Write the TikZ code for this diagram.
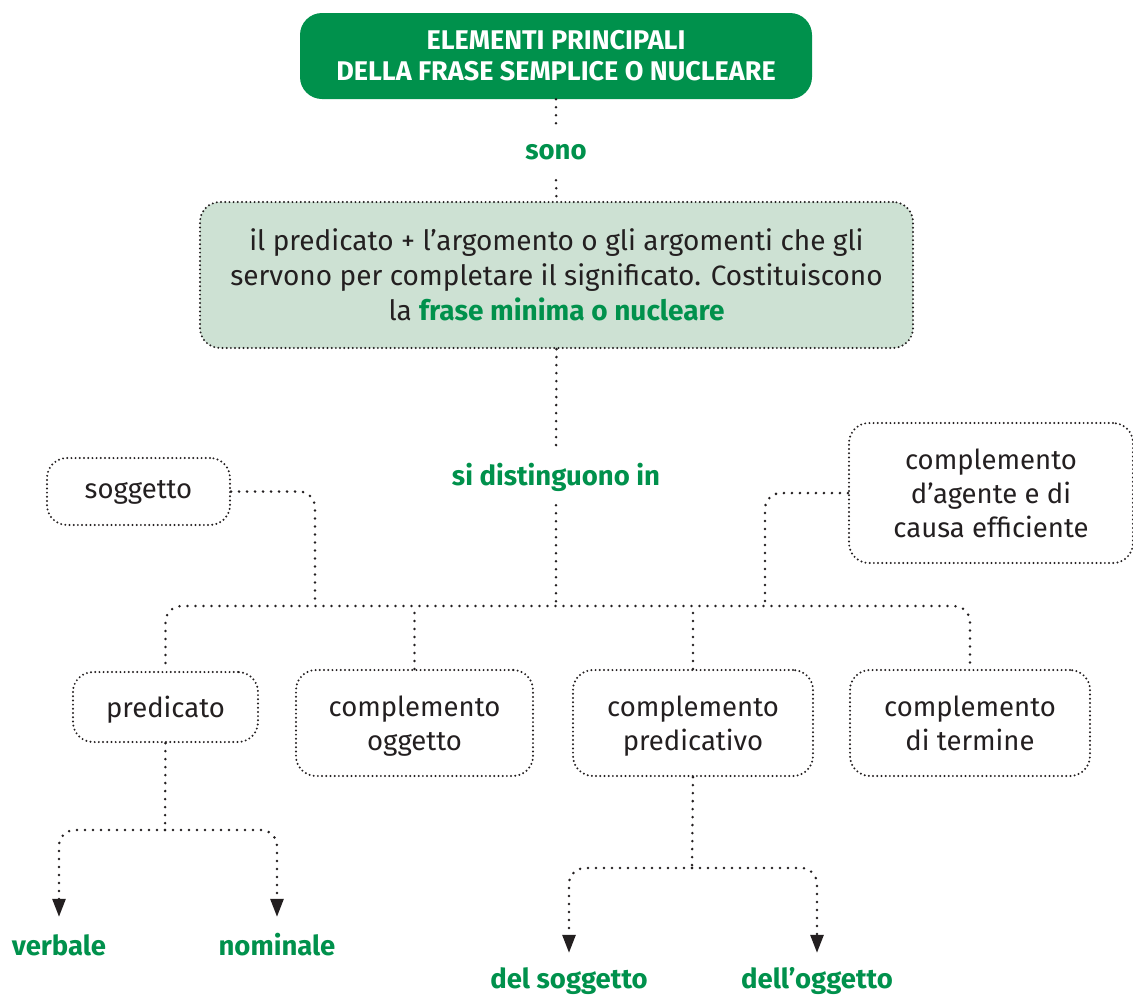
\documentclass[tikz,border=0pt]{standalone}
\usepackage{fontspec}
\setmainfont{Fira Sans}
\usetikzlibrary{arrows.meta}
\definecolor{leafgreen}{RGB}{0,145,76}
\definecolor{mintbg}{RGB}{205,225,211}
\definecolor{inkgray}{RGB}{35,31,32}
\newcommand{\upgap}{\rule{0pt}{31pt}}

\tikzset{
  box/.style={draw=inkgray, line width=2.2pt, dash pattern=on 0pt off 4.2pt,
              line cap=round, rounded corners=20pt, align=center, inner sep=0pt,
              text=inkgray, font=\fontsize{27.5}{34}\selectfont},
  link/.style={draw=inkgray, line width=2.8pt, dash pattern=on 0pt off 8pt,
               line cap=round},
  tag/.style={text=leafgreen, font=\fontsize{27.5}{30}\selectfont\bfseries,
              minimum height=56pt, inner sep=0pt},
  tip/.style={-{Triangle[width=13pt,length=18pt]}}
}

\begin{document}
\begin{tikzpicture}[x=1pt, y=-1pt]
  \useasboundingbox (0,0) rectangle (1133,997);

  % top of the map
  \node[fill=leafgreen, rounded corners=22pt, minimum width=512pt, minimum height=86pt,
        inner sep=0pt, align=center, text=white,
        font=\fontsize{27}{31}\selectfont\bfseries] (title) at (556,56)
    {ELEMENTI PRINCIPALI\\DELLA FRASE SEMPLICE O NUCLEARE};
  \node[tag] (sono) at (556,152) {sono};
  \node[box, fill=mintbg, minimum width=713pt, minimum height=146pt,
        font=\fontsize{28}{35}\selectfont] (main) at (556.5,275)
    {\upgap il predicato + l’argomento o gli argomenti che gli\\
     servono per completare il significato. Costituiscono\\
     la \textcolor{leafgreen}{\bfseries frase minima o nucleare}\strut};
  \node[tag] (sidist) at (556,477) {si distinguono in};

  % side boxes
  \node[box, minimum width=183pt, minimum height=67pt] (sogg) at (138.5,491.5) {soggetto\strut};
  \node[box, minimum width=284pt, minimum height=140pt] (agente) at (991,493)
    {\upgap complemento\\d’agente e di\\causa efficiente\strut};

  % row of elements
  \node[box, minimum width=185pt, minimum height=70pt] (pred) at (165.5,707) {\upgap predicato\strut};
  \node[box, minimum width=237pt, minimum height=106pt] (ogg) at (414.5,723)
    {\upgap complemento\\oggetto\strut};
  \node[box, minimum width=240pt, minimum height=106pt] (predv) at (693,723)
    {\upgap complemento\\predicativo\strut};
  \node[box, minimum width=240pt, minimum height=106pt] (term) at (970,723)
    {\upgap complemento\\di termine\strut};

  % leaves
  \node[tag] (verb) at (59,945) {verbale};
  \node[tag] (nom) at (277,945) {nominale};
  \node[tag] (dsogg) at (569,981) {del soggetto};
  \node[tag] (dogg) at (817,981) {dell’oggetto};

  \coordinate (jM) at (556,606);
  \coordinate (jS) at (315,606);
  \coordinate (jA) at (765,606);
  \coordinate (jP) at (165,830);
  \coordinate (jV) at (692,868);

  \draw[link] (title.south) -- (sono.north);
  \draw[link] (sono.south) -- (main.north);
  \draw[link] (main.south) -- (sidist.north);
  \draw[link] (sidist.south) -- (jM);
  \draw[link, rounded corners=16pt] (sogg.east) -| (jS);
  \draw[link, rounded corners=16pt] (agente.west) -| (jA);
  \draw[link, rounded corners=16pt, shorten <=8pt, shorten >=6pt] (pred.north) |- (jM) -| (term.north);
  \draw[link] (ogg.north) -- (ogg.north |- jM);
  \draw[link] (predv.north) -- (predv.north |- jM);

  \draw[link] (pred.south) -- (jP);
  \draw[link, tip, rounded corners=16pt] (jP) -| (verb.north);
  \draw[link, tip, rounded corners=16pt] (jP) -| (nom.north);
  \draw[link] (predv.south) -- (jV);
  \draw[link, tip, rounded corners=16pt] (jV) -| (dsogg.north);
  \draw[link, tip, rounded corners=16pt] (jV) -| (dogg.north);
\end{tikzpicture}
\end{document}
